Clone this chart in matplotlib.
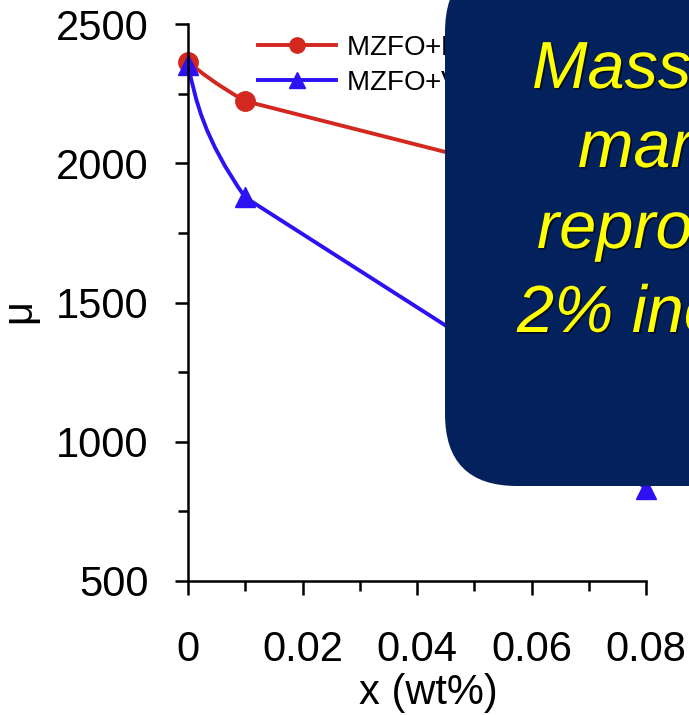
import numpy as np
import matplotlib
matplotlib.use("Agg")
from matplotlib import pyplot as plt
from matplotlib import patheffects
from matplotlib.path import Path
from matplotlib.patches import PathPatch, FancyBboxPatch
from matplotlib.lines import Line2D

plt.rcParams['font.family'] = ['Liberation Sans', 'DejaVu Sans']

# data (points behind the box are estimates)
x_wt = [0.0, 0.01, 0.05, 0.08]
mu_red = [2365, 2224, 2015, 1870]
mu_blue = [2355, 1878, 1352, 832]
labels = ["MZFO+Bi$_2$O$_3$", "MZFO+V$_2$O$_5$"]
y_ticks = [500, 1000, 1500, 2000, 2500]
x_ticks = [0, 0.02, 0.04, 0.06, 0.08]
x_ticklabels = ["0", "0.02", "0.04", "0.06", "0.08"]
note_lines = ["Massive", "marked", "reproducible", "2% increase"]

RED = "#D2281F"
BLUE = "#2C12F2"
NAVY = "#03215D"

W, H = 689, 715


def smooth_path(ax, x, y):
    """Curved first segment (bezier, worked out in screen space), straight after."""
    to_px = ax.transData
    p = to_px.transform(np.column_stack([x, y]))
    c0 = p[1] - p[0]
    c1 = p[2] - p[1]
    l0, l1 = np.hypot(*c0), np.hypot(*c1)
    # tangent at the 2nd point leans towards the shorter chord
    d = (l1 * c0 / l0 + l0 * c1 / l1) / (l0 + l1)
    d = d / np.hypot(*d)
    t1 = 1.5 * l0 * d
    t0 = (3 * c0 - t1) / 2
    verts = [p[0], p[0] + t0 / 3, p[1] - t1 / 3, p[1]]
    codes = [Path.MOVETO, Path.CURVE4, Path.CURVE4, Path.CURVE4]
    for q in p[2:]:
        verts.append(q)
        codes.append(Path.LINETO)
    verts = to_px.inverted().transform(np.array(verts))
    return Path(verts, codes)


fig = plt.figure(figsize=(W / 100, H / 100), dpi=100)
ax = fig.add_axes([188 / W, 1 - 581 / H, (646 - 188) / W, (581 - 24.3) / H])
ax.set_xlim(0, 0.08)
ax.set_ylim(500, 2500)

# curves + markers
for ys, col, mk, ms in [(mu_red, RED, "o", 14), (mu_blue, BLUE, "^", 15)]:
    ax.add_patch(PathPatch(smooth_path(ax, x_wt, ys), fill=False, edgecolor=col,
                           lw=2.8, clip_on=False, capstyle="round", joinstyle="round"))
    ax.plot(x_wt, ys, ls="none", marker=mk, ms=ms, color=col, clip_on=False)

for s in ["top", "right"]:
    ax.spines[s].set_visible(False)
for s in ["left", "bottom"]:
    ax.spines[s].set_linewidth(1.8)

ax.set_yticks(y_ticks)
ax.set_yticks(np.arange(750, 2500, 500), minor=True)
ax.set_xticks(x_ticks)
ax.set_xticklabels(x_ticklabels)
ax.set_xticks(np.arange(0.01, 0.08, 0.02), minor=True)
ax.tick_params(axis="both", which="both", direction="out", width=1.8, labelsize=30)
ax.tick_params(axis="y", which="major", length=9.5, pad=19)
ax.tick_params(axis="y", which="minor", length=7)
ax.tick_params(axis="x", which="major", length=10, pad=25)
ax.tick_params(axis="x", which="minor", length=7.5)

fig.text(19 / W, 1 - 311 / H, "μ", rotation=90, fontsize=30, ha="center", va="center")
fig.text(428 / W, 1 - 693 / H, "x (wt%)", fontsize=30, ha="center", va="center")

handles = [Line2D([], [], color=RED, lw=2.8, marker="o", ms=11),
           Line2D([], [], color=BLUE, lw=2.8, marker="^", ms=12)]
ax.legend(handles, labels, loc="upper left", bbox_to_anchor=(258 / W, 1 - 33 / H),
          bbox_transform=fig.transFigure, frameon=False, fontsize=20,
          handlelength=2.8, handletextpad=0.35, labelspacing=0.25,
          borderpad=0, borderaxespad=0)

# overlay in pixel units for the slide's text box
ov = fig.add_axes([0, 0, 1, 1], zorder=5)
ov.set_xlim(0, W)
ov.set_ylim(H, 0)
ov.axis("off")
ov.patch.set_alpha(0)
ov.add_patch(FancyBboxPatch((445, -40), 360, 526,
                            boxstyle="round,pad=0,rounding_size=72",
                            facecolor=NAVY, edgecolor="none"))
shadow = [patheffects.withSimplePatchShadow(offset=(1.2, -1.2), shadow_rgbFace="black", alpha=0.6)]
for txt, x0, yb in zip(note_lines, [532, 578, 537, 517], [88, 167, 248, 332]):
    ov.text(x0, yb, txt, color="#FFFF00", fontsize=48, style="italic",
            ha="left", va="baseline", path_effects=shadow)

fig.savefig("out.png", dpi=100)
